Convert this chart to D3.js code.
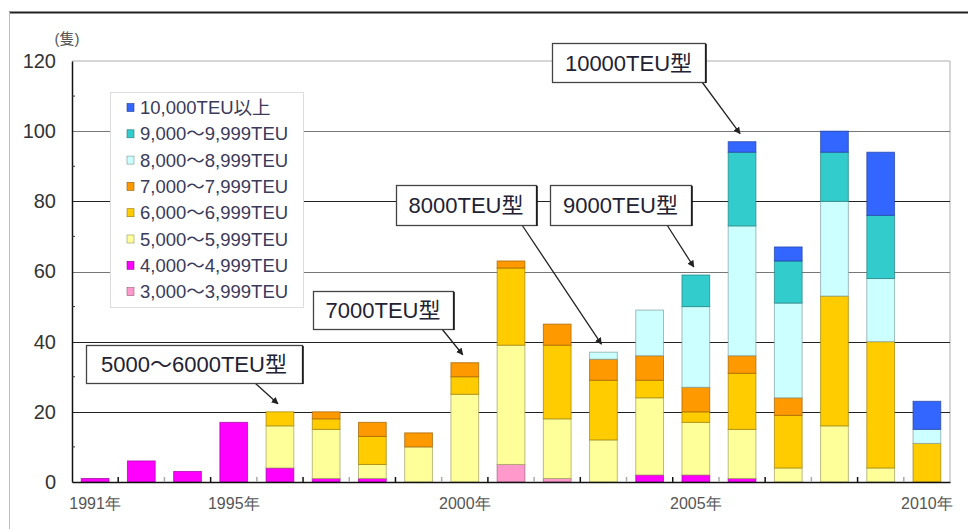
<!DOCTYPE html>
<html><head><meta charset="utf-8">
<script src="https://cdn.jsdelivr.net/npm/d3@7"></script>
<style>
html,body{margin:0;padding:0;background:#fff;}
svg{display:block;font-family:"Liberation Sans",Arial,"Noto Sans CJK JP",sans-serif;}
</style></head>
<body>
<svg id="chart" width="968" height="529"></svg>
<script>
// ---- data ----
const years = [1991,1993,1994,1995,1996,1997,1998,1999,2000,2001,2002,2003,2004,2005,2006,2007,2008,2009,2010];
const yearLabels = {1991:"1991年",1995:"1995年",2000:"2000年",2005:"2005年",2010:"2010年"};
const seriesNames = ["3,000～3,999TEU","4,000～4,999TEU","5,000～5,999TEU","6,000～6,999TEU","7,000～7,999TEU","8,000～8,999TEU","9,000～9,999TEU","10,000TEU以上"];
const s3000  = [0,0,0,0,0,0,0,0,0,5,1,0,0,0,0,0,0,0,0];
const s4000  = [1,6,3,17,4,1,1,0,0,0,0,0,2,2,1,0,0,0,0];
const s5000  = [0,0,0,0,12,14,4,10,25,34,17,12,22,15,14,4,16,4,0];
const s6000  = [0,0,0,0,4,3,8,0,5,22,21,17,5,3,16,15,37,36,11];
const s7000  = [0,0,0,0,0,2,4,4,4,2,6,6,7,7,5,5,0,0,0];
const s8000  = [0,0,0,0,0,0,0,0,0,0,0,2,13,23,37,27,27,18,4];
const s9000  = [0,0,0,0,0,0,0,0,0,0,0,0,0,9,21,12,14,18,0];
const s10000 = [0,0,0,0,0,0,0,0,0,0,0,0,0,0,3,4,6,18,8];
const seriesColors = ["#FF99CC","#FF00FF","#FFFF99","#FFCC00","#FF9900","#CCFFFF","#33CCCC","#3366FF"];
const yTicks = [0,20,40,60,80,100,120];
const annoTexts = ["5000～6000TEU型","7000TEU型","8000TEU型","9000TEU型","10000TEU型"];
const annoYears = [1996,2000,2003,2005,2006];

// ---- layout ----
const svg = d3.select("#chart");
const L = 72, R = 950, T = 61, B = 482;
const allSeries = [s3000,s4000,s5000,s6000,s7000,s8000,s9000,s10000];
const keys = allSeries.map((_,i)=>"k"+i);
const table = years.map((y,j)=>{const o={year:y}; allSeries.forEach((s,i)=>o["k"+i]=s[j]); return o;});
const stack = d3.stack().keys(keys)(table);

const x = d3.scaleBand().domain(years).range([L,R]).paddingInner(0.4).paddingOuter(0.2);
const y = d3.scaleLinear().domain([0,120]).range([B,T]);

// outer frame
svg.append("line").attr("x1",9).attr("x2",968).attr("y1",12.5).attr("y2",12.5).attr("stroke","#222").attr("stroke-width",2);
svg.append("line").attr("x1",9.5).attr("x2",9.5).attr("y1",12).attr("y2",529).attr("stroke","#bbb").attr("stroke-width",1);

// plot frame (top/right light)
svg.append("line").attr("x1",L).attr("x2",R).attr("y1",T).attr("y2",T).attr("stroke","#c8c8c8").attr("stroke-width",1.5);
svg.append("line").attr("x1",R).attr("x2",R).attr("y1",T).attr("y2",B).attr("stroke","#c8c8c8").attr("stroke-width",1.5);

// gridlines
svg.append("g").selectAll("line").data(yTicks.filter(d=>d>0 && d<120)).join("line")
  .attr("x1",L).attr("x2",R).attr("y1",d=>Math.round(y(d))+0.5).attr("y2",d=>Math.round(y(d))+0.5)
  .attr("stroke",(d,i)=> (d===100||d===60)?"#777":"#222").attr("stroke-width",1.2);

// bars
const gBars = svg.append("g");
stack.forEach((layer,i)=>{
  gBars.append("g").selectAll("rect").data(layer.filter(d=>d[1]-d[0]>0)).join("rect")
    .attr("x",d=>x(d.data.year)).attr("width",x.bandwidth())
    .attr("y",d=>y(d[1])).attr("height",d=>y(d[0])-y(d[1]))
    .attr("fill",seriesColors[i])
    .attr("stroke",d3.color(seriesColors[i]).darker(1.3)).attr("stroke-opacity",0.7).attr("stroke-width",1);
});

// axes
const yAxis = d3.axisLeft(y).tickValues(yTicks).tickSize(0).tickPadding(16);
const gy = svg.append("g").attr("transform",`translate(${L},0)`).call(yAxis);
gy.select(".domain").attr("stroke","#111").attr("stroke-width",1.5);
gy.selectAll("text").attr("font-size",20).attr("fill","#333").attr("font-family","Liberation Sans, Arial, sans-serif");
// minor y ticks
svg.append("g").selectAll("line").data(d3.range(10,120,20)).join("line")
  .attr("x1",L).attr("x2",L+3).attr("y1",d=>y(d)).attr("y2",d=>y(d)).attr("stroke","#333");

const xAxis = d3.axisBottom(x).tickSize(0).tickPadding(16).tickFormat(d=>yearLabels[d]||"");
const gx = svg.append("g").attr("transform",`translate(0,${B})`).call(xAxis);
gx.select(".domain").attr("stroke","#111").attr("stroke-width",1.5);
gx.selectAll("text").attr("font-size",16).attr("fill","#555");
// x ticks between bars
const step = x.step();
svg.append("g").selectAll("line").data(d3.range(1,years.length)).join("line")
  .attr("x1",d=>L+d*step).attr("x2",d=>L+d*step).attr("y1",B).attr("y2",B-5)
  .attr("stroke",(d,i)=>i%2===0?"#111":"#aaa").attr("stroke-width",1.5);

// unit
svg.append("text").attr("x",67).attr("y",44).attr("text-anchor","middle").attr("font-size",15).attr("fill","#555").text("(隻)");

// legend
const lg = svg.append("g");
lg.append("rect").attr("x",110.5).attr("y",92.5).attr("width",193).attr("height",215).attr("fill","#fff").attr("stroke","#ddd");
const legendOrder = d3.range(seriesNames.length).reverse();
legendOrder.forEach((si,r)=>{
  const cy = 107.5 + r*26.3;
  lg.append("rect").attr("x",127).attr("y",cy-4).attr("width",7).attr("height",8)
    .attr("fill",seriesColors[si]).attr("stroke",d3.color(seriesColors[si]).darker(1.5)).attr("stroke-width",0.6);
  lg.append("text").attr("x",140).attr("y",cy+6.5).attr("font-size",18.5).attr("fill","#3a3a5a").text(seriesNames[si]);
});

// annotations
const boxes = [
  {x:86,y:345,w:216,h:38,sx:255},
  {x:313,y:291,w:140,h:38,sx:442},
  {x:396,y:185,w:140,h:40,sx:522},
  {x:550,y:185,w:141,h:40,sx:667},
  {x:552,y:43,w:153,h:39,sx:702}
];
const defs = svg.append("defs");
defs.append("marker").attr("id","ah").attr("viewBox","0 0 10 10").attr("refX",9).attr("refY",5)
  .attr("markerWidth",7).attr("markerHeight",7).attr("markerUnits","userSpaceOnUse").attr("orient","auto")
  .append("path").attr("d","M0,0 L10,5 L0,10 z").attr("fill","#222");
const ag = svg.append("g");
annoTexts.forEach((t,i)=>{
  const b = boxes[i];
  const j = years.indexOf(annoYears[i]);
  const total = d3.sum(allSeries,s=>s[j]);
  const tx = x(annoYears[i]) + x.bandwidth()/2 - 2;
  const ty = y(total) - 8;
  ag.append("line").attr("x1",b.sx).attr("y1",b.y+b.h).attr("x2",tx).attr("y2",ty)
    .attr("stroke","#222").attr("stroke-width",1.3).attr("marker-end","url(#ah)");
  ag.append("rect").attr("x",b.x+0.5).attr("y",b.y+0.5).attr("width",b.w).attr("height",b.h)
    .attr("fill","#fff").attr("stroke","#444").attr("stroke-width",1.3);
  ag.append("line").attr("x1",b.x+b.w+1).attr("x2",b.x+b.w+1).attr("y1",b.y+1).attr("y2",b.y+b.h+1).attr("stroke","#111").attr("stroke-width",1.5);
  ag.append("text").attr("x",b.x+b.w/2).attr("y",b.y+b.h/2+8).attr("text-anchor","middle")
    .attr("font-size",22).attr("fill","#223").text(t);
});
</script>
</body></html>
